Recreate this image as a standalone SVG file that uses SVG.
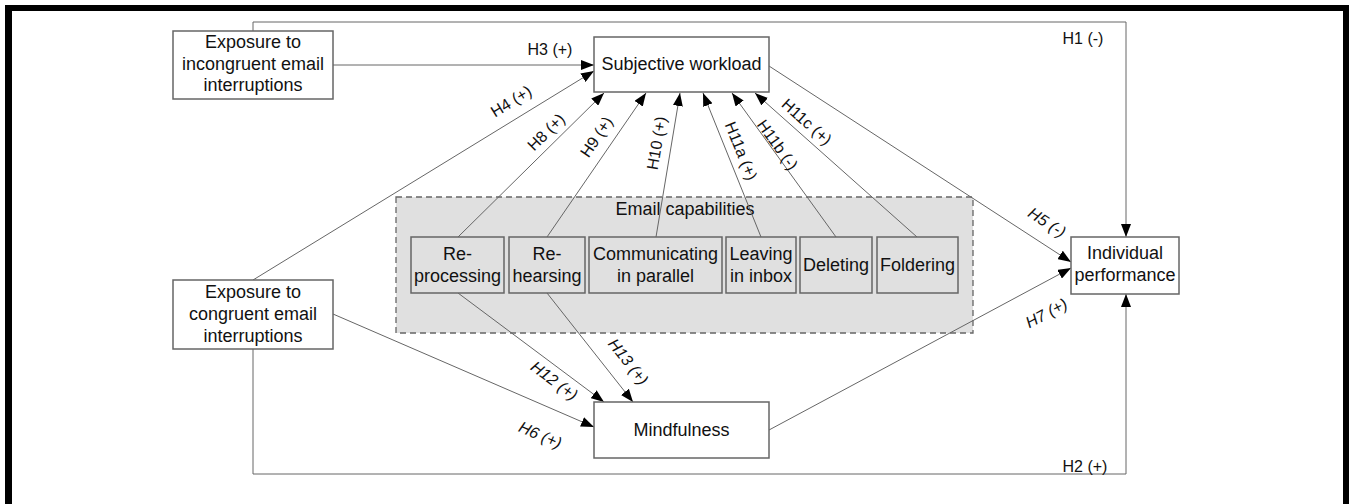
<svg xmlns="http://www.w3.org/2000/svg" width="1349" height="504" viewBox="0 0 1349 504">
<style>
  .box { fill: #ffffff; stroke: #666666; stroke-width: 1.5; }
  .sub { fill: #e0e0e0; stroke: #666666; stroke-width: 1.5; }
  .group { fill: #e0e0e0; stroke: #666666; stroke-width: 1.3; stroke-dasharray: 6 4; }
  .t { font-family: "Liberation Sans", Arial, sans-serif; font-size: 18px; fill: #111111; text-anchor: middle; }
  .lbl { font-family: "Liberation Sans", Arial, sans-serif; font-size: 16px; fill: #111111; text-anchor: middle; }
  .it { font-style: italic; }
  .c { fill: none; stroke: #666666; stroke-width: 1; }
  .ca { fill: none; stroke: #666666; stroke-width: 1; marker-end: url(#ah); }
</style>
<defs>
  <marker id="ah" markerUnits="userSpaceOnUse" markerWidth="13" markerHeight="10" refX="13" refY="5" orient="auto">
    <path d="M0,0 L13,5 L0,10 z" fill="#000000"/>
  </marker>
</defs>
<rect x="0" y="0" width="1349" height="504" fill="#ffffff"/>
<g id="frame" fill="#000000">
  <rect x="5" y="5" width="1344" height="6"/>
  <rect x="5" y="5" width="7" height="499"/>
  <rect x="1343" y="5" width="6" height="499"/>
</g>

<g id="email-capabilities">
  <rect class="group" x="396" y="197" width="577" height="136"/>
  <text class="t" x="685" y="215">Email capabilities</text>
</g>

<g id="connectors">
  <polyline class="ca" points="253,31 253,22 1126,22 1126,237"/>
  <polyline class="ca" points="253,349 253,474 1126,474 1126,294"/>
  <line class="ca" x1="333" y1="65" x2="594" y2="65"/>
  <line class="ca" x1="253" y1="280" x2="594" y2="71"/>
  <line class="ca" x1="769" y1="66" x2="1071" y2="262"/>
  <line class="ca" x1="333" y1="314" x2="594" y2="427"/>
  <line class="ca" x1="769" y1="430" x2="1071" y2="268"/>
  <line class="ca" x1="458" y1="237" x2="604" y2="93"/>
  <line class="ca" x1="547" y1="237" x2="646" y2="93"/>
  <line class="ca" x1="656" y1="237" x2="680" y2="93"/>
  <line class="ca" x1="761" y1="237" x2="703" y2="93"/>
  <line class="ca" x1="836" y1="237" x2="732" y2="93"/>
  <line class="ca" x1="917" y1="237" x2="755" y2="93"/>
  <line class="ca" x1="458" y1="293" x2="604" y2="402"/>
  <line class="ca" x1="547" y1="293" x2="633" y2="402"/>
</g>

<g id="labels">
  <text class="lbl" x="1083" y="44">H1 (-)</text>
  <text class="lbl" x="1085" y="472">H2 (+)</text>
  <text class="lbl" x="550" y="55">H3 (+)</text>
  <text class="lbl" transform="translate(514,106) rotate(-31.6)">H4 (+)</text>
  <text class="lbl" transform="translate(550,136) rotate(-44.8)">H8 (+)</text>
  <text class="lbl" transform="translate(601,140) rotate(-56)">H9 (+)</text>
  <text class="lbl" transform="translate(662,144) rotate(-80.6)">H10 (+)</text>
  <text class="lbl" transform="translate(736,153) rotate(68)">H11a (+)</text>
  <text class="lbl" transform="translate(773,148) rotate(54.3)">H11b (-)</text>
  <text class="lbl" transform="translate(803,126) rotate(41.7)">H11c (+)</text>
  <text class="lbl it" transform="translate(1044,227) rotate(33)">H5 (-)</text>
  <text class="lbl it" transform="translate(1049,318) rotate(-28.2)">H7 (+)</text>
  <text class="lbl it" transform="translate(551,385) rotate(36.7)">H12 (+)</text>
  <text class="lbl it" transform="translate(624,365) rotate(51.7)">H13 (+)</text>
  <text class="lbl it" transform="translate(538,440) rotate(23.5)">H6 (+)</text>
</g>

<g id="node-incongruent">
  <rect class="box" x="173" y="31" width="160" height="68"/>
  <text class="t" x="253" y="48">Exposure to</text>
  <text class="t" x="253" y="69.5">incongruent email</text>
  <text class="t" x="253" y="91">interruptions</text>
</g>
<g id="node-congruent">
  <rect class="box" x="173" y="280" width="160" height="69"/>
  <text class="t" x="253" y="298">Exposure to</text>
  <text class="t" x="253" y="320">congruent email</text>
  <text class="t" x="253" y="342">interruptions</text>
</g>
<g id="node-workload">
  <rect class="box" x="594" y="37" width="175" height="55"/>
  <text class="t" x="681.5" y="70">Subjective workload</text>
</g>
<g id="node-mindfulness">
  <rect class="box" x="594" y="402" width="175" height="56"/>
  <text class="t" x="681.5" y="436">Mindfulness</text>
</g>
<g id="node-performance">
  <rect class="box" x="1071" y="237" width="108" height="57"/>
  <text class="t" x="1125" y="259">Individual</text>
  <text class="t" x="1125" y="281">performance</text>
</g>
<g id="node-reprocessing">
  <rect class="sub" x="411" y="237" width="93" height="56"/>
  <text class="t" x="457.5" y="260">Re-</text>
  <text class="t" x="457.5" y="282">processing</text>
</g>
<g id="node-rehearsing">
  <rect class="sub" x="509" y="237" width="76" height="56"/>
  <text class="t" x="547" y="260">Re-</text>
  <text class="t" x="547" y="282">hearsing</text>
</g>
<g id="node-communicating">
  <rect class="sub" x="589" y="237" width="133" height="56"/>
  <text class="t" x="655.5" y="260">Communicating</text>
  <text class="t" x="655.5" y="282">in parallel</text>
</g>
<g id="node-leaving">
  <rect class="sub" x="726" y="237" width="70" height="56"/>
  <text class="t" x="761" y="260">Leaving</text>
  <text class="t" x="761" y="282">in inbox</text>
</g>
<g id="node-deleting">
  <rect class="sub" x="800" y="237" width="72" height="56"/>
  <text class="t" x="836" y="271">Deleting</text>
</g>
<g id="node-foldering">
  <rect class="sub" x="877" y="237" width="81" height="56"/>
  <text class="t" x="917.5" y="271">Foldering</text>
</g>
</svg>
